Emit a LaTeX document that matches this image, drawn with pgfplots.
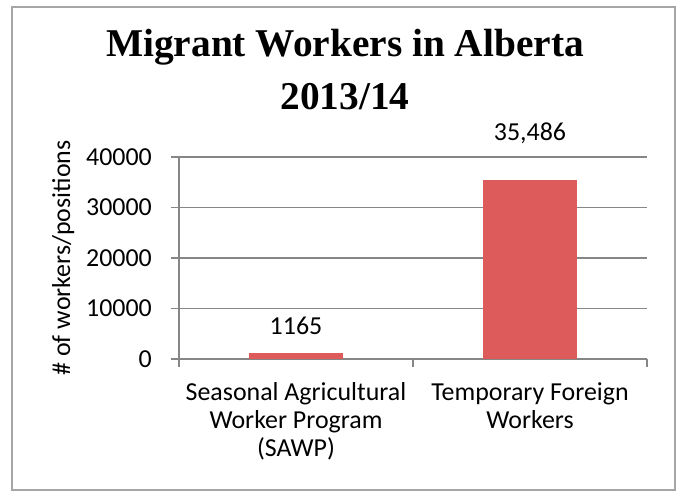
\documentclass[border=0pt]{standalone}
\usepackage{fontspec}
\setmainfont{Carlito}
\newfontfamily\titlefont{Liberation Serif}
\usepackage{pgfplots}
\pgfplotsset{compat=1.18}
\definecolor{barred}{RGB}{222,91,91}
\definecolor{axgray}{RGB}{134,134,134}
\definecolor{framegray}{RGB}{166,166,166}
\newcommand{\lbl}{\fontsize{26}{28.5}\selectfont}
\begin{document}
\begin{tikzpicture}[x=1bp,y=1bp]
\useasboundingbox (0,0) rectangle (676,491);
\draw[framegray, line width=1.5bp] (12,1) rectangle (675,484);
\node[anchor=base, font=\titlefont\bfseries\fontsize{39.5}{44}\selectfont] at (345,434) {Migrant Workers in Alberta};
\node[anchor=base, font=\titlefont\bfseries\fontsize{39.5}{44}\selectfont] at (345,381) {2013/14};
\node[anchor=base, rotate=90, font=\lbl] at (70,233) {\# of workers/positions};
\begin{axis}[
  at={(179bp,132bp)}, anchor=south west,
  scale only axis, width=468bp, height=202bp,
  xmin=-0.5, xmax=1.5, ymin=0, ymax=40000,
  axis lines*=left,
  axis line style={axgray, line width=1.3bp},
  ymajorgrids, xmajorgrids=false, grid style={axgray, line width=1.3bp},
  ytick={0,10000,20000,30000,40000},
  scaled y ticks=false,
  /pgf/number format/set thousands separator={},
  /pgf/number format/assume math mode=true,
  tick align=outside,
  major tick length=8bp,
  tick style={axgray, line width=1.3bp},
  yticklabel style={font=\lbl, anchor=east, inner sep=0pt, xshift=-19bp},
  xtick={-0.5,0.5,1.5},
  x tick label as interval,
  xticklabels={{Seasonal Agricultural\\Worker Program\\(SAWP)},{Temporary Foreign\\Workers}},
  xticklabel style={font=\lbl, align=center, anchor=north, inner sep=0pt, yshift=-15bp},
  ybar, bar width=94bp,
  clip=false,
]
\addplot[fill=barred, draw=none, bar shift=0pt,
  nodes near coords={1165},
  every node near coord/.append style={font=\lbl, anchor=base, yshift=19bp, inner sep=0pt}]
  coordinates {(0,1165)};
\addplot[fill=barred, draw=none, bar shift=0pt,
  nodes near coords={35{,}486},
  every node near coord/.append style={font=\lbl, anchor=base, yshift=39bp, inner sep=0pt}]
  coordinates {(1,35486)};
\end{axis}
\end{tikzpicture}
\end{document}
